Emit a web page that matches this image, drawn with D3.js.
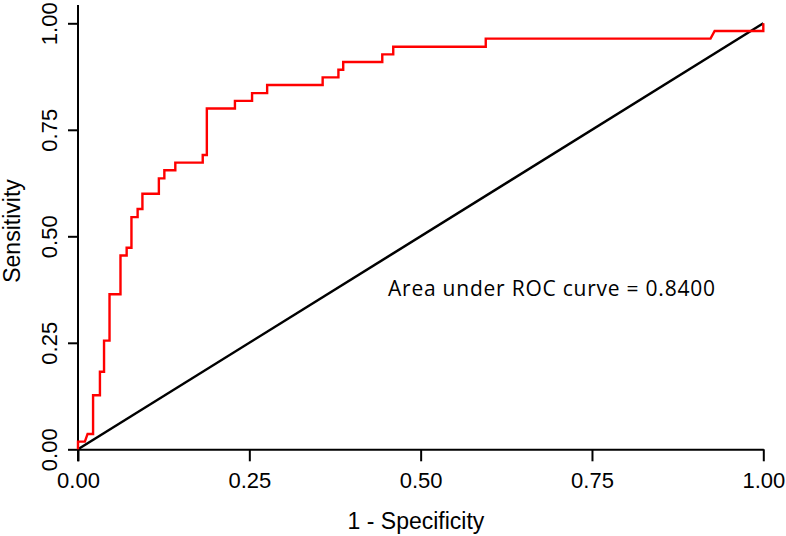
<!DOCTYPE html>
<html>
<head>
<meta charset="utf-8">
<script src="https://cdn.jsdelivr.net/npm/d3@7/dist/d3.min.js"></script>
<style>
  html, body { margin: 0; padding: 0; background: #fff; }
  svg { display: block; }
</style>
</head>
<body>
<svg id="chart" width="786" height="536"></svg>
<script>
// ROC curve vertices (1 - specificity, sensitivity)
const fpr = [0, 0, 0.010, 0.014, 0.022, 0.022, 0.032, 0.032, 0.038, 0.038, 0.046, 0.046,
  0.062, 0.062, 0.071, 0.071, 0.078, 0.078, 0.087, 0.087, 0.094, 0.094, 0.118, 0.118,
  0.126, 0.126, 0.142, 0.142, 0.182, 0.182, 0.188, 0.188, 0.229, 0.229, 0.254, 0.254,
  0.276, 0.276, 0.357, 0.357, 0.380, 0.380, 0.387, 0.387, 0.444, 0.444, 0.460, 0.460,
  0.595, 0.595, 0.923, 0.929, 1.0, 1.0];
const tpr = [0, 0.018, 0.018, 0.036, 0.036, 0.127, 0.127, 0.182, 0.182, 0.255, 0.255, 0.364,
  0.364, 0.455, 0.455, 0.473, 0.473, 0.545, 0.545, 0.564, 0.564, 0.600, 0.600, 0.636,
  0.636, 0.655, 0.655, 0.673, 0.673, 0.691, 0.691, 0.800, 0.800, 0.818, 0.818, 0.836,
  0.836, 0.855, 0.855, 0.873, 0.873, 0.891, 0.891, 0.909, 0.909, 0.927, 0.927, 0.945,
  0.945, 0.964, 0.964, 0.982, 0.982, 1.0];
const refX = [0, 1];
const refY = [0, 1];
const xTicks = [0, 0.25, 0.5, 0.75, 1];
const yTicks = [0, 0.25, 0.5, 0.75, 1];
const xTitle = "1 - Specificity";
const yTitle = "Sensitivity";
const aucLabel = "Area under ROC curve = 0.8400";

const svg = d3.select("#chart");
const x = d3.scaleLinear().domain([0, 1]).range([78, 763.3]);
const y = d3.scaleLinear().domain([0, 1]).range([449.3, 23.3]);

const tickFont = "'Liberation Sans', Arial, sans-serif";

// X axis
const xAxis = svg.append("g")
  .attr("transform", `translate(0,${y(0)})`)
  .call(d3.axisBottom(x).tickValues(xTicks).tickFormat(d3.format(".2f")).tickSize(12).tickSizeOuter(0));
xAxis.select(".domain").attr("stroke", "#000").attr("stroke-width", 2);
xAxis.selectAll(".tick line").attr("stroke", "#000").attr("stroke-width", 2);
xAxis.selectAll(".tick text")
  .attr("font-family", tickFont).attr("font-size", 22).attr("fill", "#000")
  .attr("dy", null).attr("y", 39);

// Y axis
const yAxis = svg.append("g")
  .attr("transform", `translate(${x(0)},0)`)
  .call(d3.axisLeft(y).tickValues(yTicks).tickFormat(d3.format(".2f")).tickSize(10).tickSizeOuter(0));
yAxis.select(".domain").attr("stroke", "#000").attr("stroke-width", 2)
  .attr("d", `M0,${y(0) + 12}V5`);
yAxis.selectAll(".tick line").attr("stroke", "#000").attr("stroke-width", 2);
yAxis.selectAll(".tick text")
  .attr("font-family", tickFont).attr("font-size", 22).attr("fill", "#000")
  .attr("dy", null).attr("x", null)
  .attr("text-anchor", "middle")
  .attr("transform", "translate(-21,0) rotate(-90)");

// Reference diagonal
svg.append("path")
  .datum(refX.map((d, i) => [d, refY[i]]))
  .attr("fill", "none").attr("stroke", "#000").attr("stroke-width", 2.5)
  .attr("d", d3.line().x(d => x(d[0])).y(d => y(d[1])));

// ROC curve
svg.append("path")
  .datum(fpr.map((d, i) => [d, tpr[i]]))
  .attr("fill", "none").attr("stroke", "#ff0000").attr("stroke-width", 2.4)
  .attr("stroke-linejoin", "miter")
  .attr("d", d3.line().x(d => x(d[0])).y(d => y(d[1])));

// Titles
svg.append("text")
  .attr("x", 416).attr("y", 529)
  .attr("text-anchor", "middle")
  .attr("font-family", tickFont).attr("font-size", 23).attr("fill", "#000")
  .text(xTitle);

svg.append("text")
  .attr("transform", "translate(20,231) rotate(-90)")
  .attr("text-anchor", "middle")
  .attr("font-family", tickFont).attr("font-size", 23).attr("fill", "#000")
  .text(yTitle);

// AUC annotation
svg.append("text")
  .attr("x", 388).attr("y", 296)
  .attr("font-family", "'Open Sans', sans-serif").attr("font-size", 21).attr("fill", "#000")
  .attr("textLength", 327).attr("lengthAdjust", "spacing")
  .text(aucLabel);
</script>
</body>
</html>
